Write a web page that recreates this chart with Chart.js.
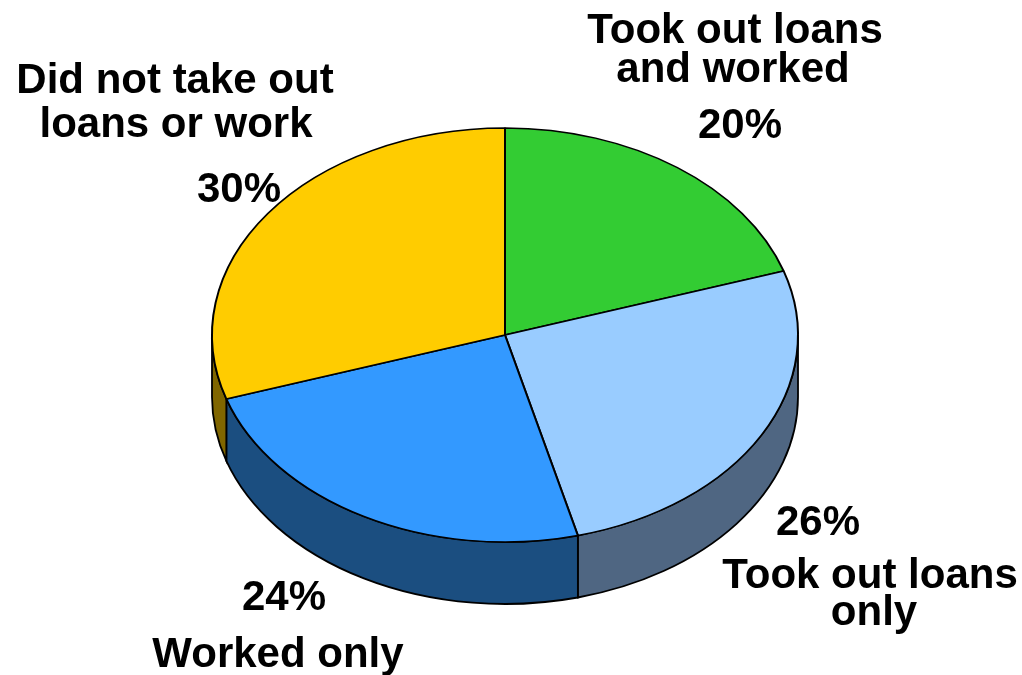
<!DOCTYPE html>
<html>
<head>
<meta charset="utf-8">
<script src="https://cdn.jsdelivr.net/npm/chart.js@4/dist/chart.umd.min.js"></script>
<style>
  html, body { margin: 0; padding: 0; background: #fff; }
  #wrap { width: 1022px; height: 675px; }
</style>
</head>
<body>
<div id="wrap"><canvas id="pieChart" width="1022" height="675"></canvas></div>
<script>
const categories = ['Took out loans and worked', 'Took out loans only', 'Worked only', 'Did not take out loans or work'];
const shares = [20, 26, 24, 30];
const labelLines = [
    ['Took out loans', 'and worked'],
    ['Took out loans', 'only'],
    ['Worked only'],
    ['Did not take out', 'loans or work']
];

const topColors = ['#33CC33', '#99CCFF', '#3399FF', '#FFCC00'];
const sideColors = ['#1A661A', '#4F6682', '#1B4E80', '#806600'];

// tilt of the pie (vertical squash) and thickness of the rim
const TILT = 207 / 293;
const DEPTH = 62;

// where each label block sits: name lines and percent, centre x / baseline y
const labelPos = [
    { name: [[735, 43], [733, 82]], pct: [740, 138] },
    { name: [[870, 588], [874, 625]], pct: [818, 535] },
    { name: [[278, 667]], pct: [284, 610] },
    { name: [[175, 93], [176, 137]], pct: [239, 202] }
];

const pie3d = {
    id: 'pie3d',
    beforeDatasetsDraw(chart) {
        const ctx = chart.ctx;
        const arcs = chart.getDatasetMeta(0).data;
        ctx.save();
        // front rim, only the part facing the viewer
        arcs.forEach((arc, i) => {
            const a = Math.max(arc.startAngle, 0);
            const b = Math.min(arc.endAngle, Math.PI);
            if (b <= a) return;
            const R = arc.outerRadius;
            const r = R * TILT;
            ctx.beginPath();
            ctx.ellipse(arc.x, arc.y, R, r, 0, a, b);
            ctx.ellipse(arc.x, arc.y + DEPTH, R, r, 0, b, a, true);
            ctx.closePath();
            ctx.fillStyle = sideColors[i];
            ctx.fill();
            ctx.lineWidth = 1.8;
            ctx.strokeStyle = '#000';
            ctx.stroke();
        });
        // squash the top face into an ellipse
        const cy = arcs[0].y;
        ctx.translate(0, cy);
        ctx.scale(1, TILT);
        ctx.translate(0, -cy);
    },
    afterDatasetsDraw(chart) {
        chart.ctx.restore();
    },
    afterDraw(chart) {
        const ctx = chart.ctx;
        ctx.save();
        ctx.fillStyle = '#000';
        ctx.font = 'bold 42px "Liberation Sans", Arial, sans-serif';
        ctx.textAlign = 'center';
        ctx.textBaseline = 'alphabetic';
        labelLines.forEach((lines, i) => {
            const pos = labelPos[i];
            lines.forEach((t, j) => ctx.fillText(t, pos.name[j][0], pos.name[j][1]));
            ctx.fillText(shares[i] + '%', pos.pct[0], pos.pct[1]);
        });
        ctx.restore();
    }
};

new Chart(document.getElementById('pieChart'), {
    type: 'pie',
    data: {
        labels: categories,
        datasets: [{
            data: shares,
            backgroundColor: topColors,
            borderColor: '#000',
            borderWidth: 2
        }]
    },
    options: {
        responsive: false,
        animation: false,
        events: [],
        layout: { padding: { left: 211, right: 223, top: 41, bottom: 46 } },
        plugins: {
            legend: { display: false },
            tooltip: { enabled: false }
        }
    },
    plugins: [pie3d]
});
</script>
</body>
</html>
